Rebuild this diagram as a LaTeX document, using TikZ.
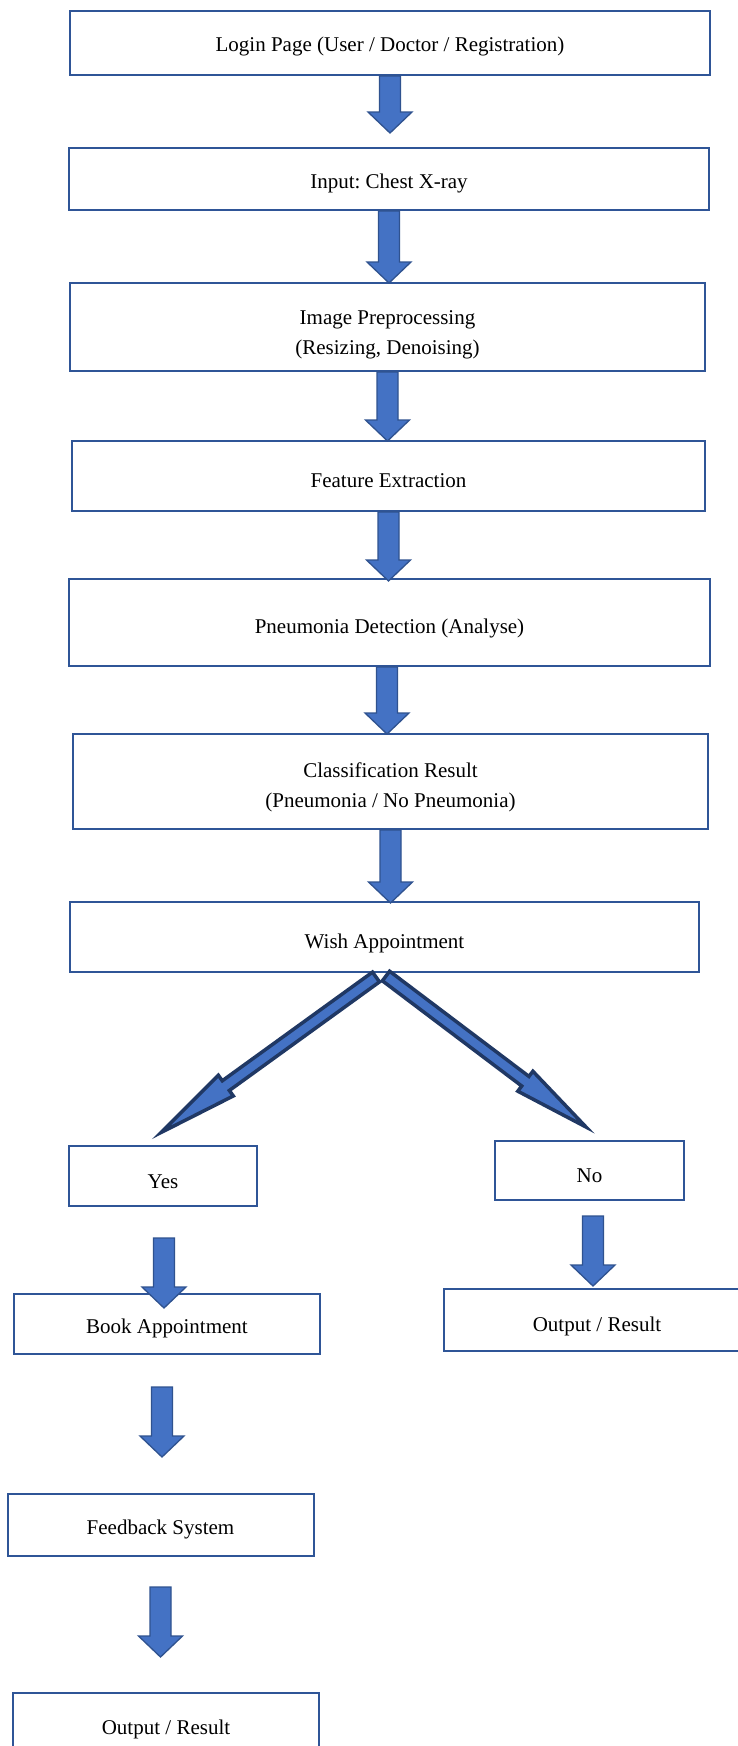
\documentclass[tikz,border=0pt]{standalone}
\usepackage{fontspec}
\setmainfont{Liberation Serif}
\usetikzlibrary{calc}
\definecolor{boxblue}{HTML}{2F5597}
\definecolor{arrfill}{HTML}{4472C4}
\definecolor{arredge}{HTML}{2F528F}
\definecolor{navyedge}{HTML}{203864}
% #2 start, #3 tip, #4 half shaft, #5 half head, #6 head length
\newcommand\blockarrow[6][]{%
  \path ($(#3)!#6!(#2)$) coordinate (bah);
  \draw[#1] ($(#2)!#4!90:(#3)$) -- ($(bah)!#4!90:(#3)$) -- ($(bah)!#5!90:(#3)$)
    -- (#3) -- ($(bah)!#5!-90:(#3)$) -- ($(bah)!#4!-90:(#3)$) -- ($(#2)!#4!-90:(#3)$) -- cycle;
}
\newcommand\boxtext[2]{\raisebox{-#1pt}[0pt][0pt]{\begin{tabular}{@{}c@{}}#2\end{tabular}}}
\frenchspacing
\begin{document}
\begin{tikzpicture}[x=1pt,y=-1pt,
  box/.style={draw=boxblue, line width=2pt, fill=white,
    font=\fontsize{21}{30}\selectfont\frenchspacing, inner sep=0pt},
  varrow/.style={fill=arrfill, draw=arredge, line width=1.3pt, line join=miter},
  darrow/.style={fill=arrfill, draw=navyedge, line width=3.5pt, line join=miter}]
\useasboundingbox (0,0) rectangle (737,1746);
\fill[white] (0,0) rectangle (737,1746);

\node[box, minimum width=640pt, minimum height=64pt] (login) at (390,43) {\boxtext{8}{Login Page (User / Doctor / Registration)}};
\node[box, minimum width=640pt, minimum height=62pt] (input) at (389,179) {\boxtext{9}{Input: Chest X-ray}};
\node[box, minimum width=635pt, minimum height=88pt] (prep) at (387.5,327) {\boxtext{11.5}{Image Preprocessing\\(Resizing, Denoising)}};
\node[box, minimum width=633pt, minimum height=70pt] (feat) at (388.5,476) {\boxtext{11}{Feature Extraction}};
\node[box, minimum width=641pt, minimum height=87pt] (pneu) at (389.5,622.5) {\boxtext{10}{Pneumonia Detection (Analyse)}};
\node[box, minimum width=635pt, minimum height=95pt] (cls) at (390.5,781.5) {\boxtext{10}{Classification Result\\(Pneumonia / No Pneumonia)}};
\node[box, minimum width=629pt, minimum height=70pt] (wish) at (384.5,937) {\boxtext{11}{Wish Appointment}};
\node[box, minimum width=188pt, minimum height=60pt] (yes) at (163,1176) {\boxtext{12}{Yes}};
\node[box, minimum width=189pt, minimum height=59pt] (no) at (589.5,1170.5) {\boxtext{11}{No}};
\node[box, minimum width=306pt, minimum height=60pt] (book) at (167,1324) {\boxtext{8.5}{Book Appointment}};
\node[box, minimum width=306pt, minimum height=62pt] (outr) at (597,1320) {\boxtext{11}{Output / Result}};
\node[box, minimum width=306pt, minimum height=62pt] (feed) at (160.5,1524.5) {\boxtext{9.5}{Feedback System}};
\node[box, minimum width=306pt, minimum height=62pt] (outb) at (166,1724) {\boxtext{10}{Output / Result}};

% vertical block arrows
\coordinate (a1s) at (login.south); \coordinate (a1e) at ($(a1s)+(0,57)$);
\coordinate (a2s) at (input.south); \coordinate (a2e) at ($(a2s)+(0,72)$);
\coordinate (a3s) at (prep.south);  \coordinate (a3e) at ($(a3s)+(0,69)$);
\coordinate (a4s) at (feat.south);  \coordinate (a4e) at ($(a4s)+(0,69)$);
\coordinate (a5s) at ($(pneu.south)+(-2.5,0)$); \coordinate (a5e) at ($(a5s)+(0,67)$);
\coordinate (a6s) at (cls.south);   \coordinate (a6e) at ($(a6s)+(0,73)$);
\coordinate (a7s) at ($(yes.south)+(1,31)$);   \coordinate (a7e) at ($(a7s)+(0,70)$);
\coordinate (a8s) at ($(no.south)+(3.5,15)$);  \coordinate (a8e) at ($(a8s)+(0,70)$);
\coordinate (a9s) at ($(book.south)+(-5,32)$); \coordinate (a9e) at ($(a9s)+(0,70)$);
\coordinate (a10s) at ($(feed.south)+(0,30.5)$); \coordinate (a10e) at ($(a10s)+(0,70)$);
\foreach \i in {1,...,10}{
  \blockarrow[varrow]{a\i s}{a\i e}{10.5pt}{22pt}{21pt}
}

% diagonal arrows
\coordinate (dls) at ($(wish.south)+(-8.5,4)$); \coordinate (dle) at ($(yes.north)+(-2,-12.5)$);
\coordinate (drs) at ($(wish.south)+(1.5,3)$);  \coordinate (dre) at ($(no.north)+(-3.5,-13)$);
\blockarrow[darrow]{dls}{dle}{6pt}{12.75pt}{80pt}
\blockarrow[darrow]{drs}{dre}{6pt}{12.5pt}{76pt}
\end{tikzpicture}
\end{document}
